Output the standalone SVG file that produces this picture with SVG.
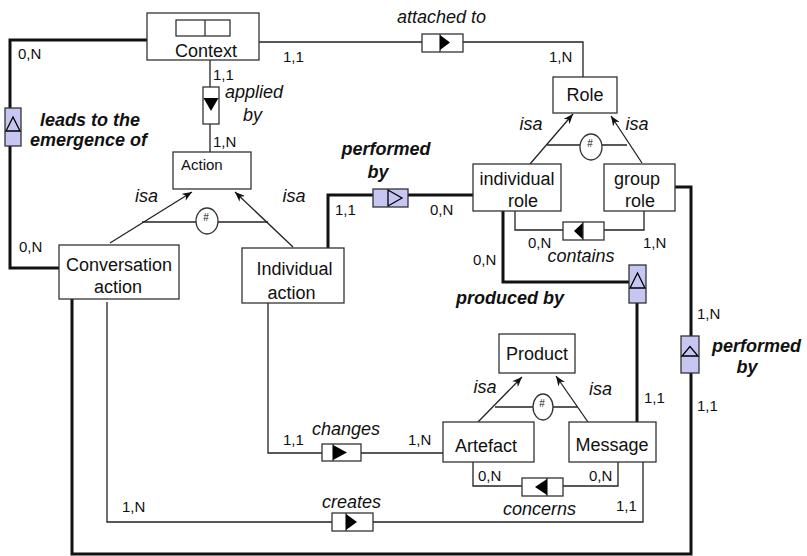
<svg xmlns="http://www.w3.org/2000/svg" width="807" height="556" viewBox="0 0 807 556">
<style>
.ent{fill:#fff;stroke:#333;stroke-width:1.3}
.rel{fill:#fff;stroke:#333;stroke-width:1.3}
.relb{fill:#c6c6f2;stroke:#333;stroke-width:1.3}
.thin{fill:none;stroke:#222;stroke-width:1.3}
.thick{fill:none;stroke:#111;stroke-width:3}
.tri{fill:#000;stroke:none}
.htri{fill:none;stroke:#000;stroke-width:1.3}
.dv{stroke:#333;stroke-width:1.3}
text{font-family:"Liberation Sans",Arial,sans-serif;fill:#111}
.n{font-size:18px;text-anchor:middle}
.c{font-size:15px}
.l{font-size:18px;font-style:italic;text-anchor:middle}
.b{font-size:18px;font-style:italic;font-weight:bold;text-anchor:middle}
.h{font-size:10px;text-anchor:middle}
</style>
<defs>
<marker id="arr" viewBox="0 0 10 8" refX="10" refY="4" markerWidth="10" markerHeight="8" markerUnits="userSpaceOnUse" orient="auto">
<path d="M0,0 L10,4 L0,8 L3,4 Z" fill="#111"/>
</marker>
</defs>
<g id="connectors">
<path class="thin" d="M259,42 H583 V77"/>
<path class="thin" d="M210,60 V152"/>
<path class="thin" d="M110,243 L192,192" marker-end="url(#arr)"/>
<path class="thin" d="M293,247 L235,192" marker-end="url(#arr)"/>
<path class="thin" d="M142,222 H268"/>
<path class="thin" d="M530,164 L573,114" marker-end="url(#arr)"/>
<path class="thin" d="M642,163 L611,116" marker-end="url(#arr)"/>
<path class="thin" d="M547,145 H627"/>
<path class="thin" d="M515,211 V230 H644 V211"/>
<path class="thin" d="M268,303 V453 H443"/>
<path class="thin" d="M478,422 L522,377" marker-end="url(#arr)"/>
<path class="thin" d="M588,422 L556,376" marker-end="url(#arr)"/>
<path class="thin" d="M495,407 H578"/>
<path class="thin" d="M473,462 V486 H618 V462"/>
<path class="thin" d="M107,302 V522 H643 V462"/>
<path class="thick" d="M147,40 H10 V268 H59"/>
<path class="thick" d="M328,248 V195 H473"/>
<path class="thick" d="M503,211 V282 H629"/>
<path class="thick" d="M637,303 V422"/>
<path class="thick" d="M675,187 H691 V554 H72 V299"/>
</g>
<g id="isa-circles">
<ellipse cx="207" cy="221" rx="11" ry="13" class="ent"/>
<text class="h" x="206" y="221">#</text>
<ellipse cx="591" cy="147" rx="11" ry="13" class="ent"/>
<text class="h" x="590" y="147">#</text>
<ellipse cx="543" cy="407" rx="10" ry="13" class="ent"/>
<text class="h" x="542" y="407">#</text>
</g>
<g id="Context">
<rect class="ent" x="147" y="13" width="112" height="47"/>
<rect class="ent" x="176" y="20" width="54" height="16"/>
<line class="dv" x1="205" y1="20" x2="205" y2="36"/>
<text class="n" x="206" y="57">Context</text>
</g>
<g id="Role">
<rect class="ent" x="553" y="77" width="64" height="36"/>
<text class="n" x="585" y="101">Role</text>
</g>
<g id="Action">
<rect class="ent" x="173" y="152" width="78" height="37"/>
<text x="181" y="170" style="font-size:15px">Action</text>
</g>
<g id="ConversationAction">
<rect class="ent" x="59" y="245" width="120" height="54"/>
<text class="n" x="119" y="271">Conversation</text>
<text class="n" x="118" y="293">action</text>
</g>
<g id="IndividualAction">
<rect class="ent" x="242" y="248" width="102" height="55"/>
<text class="n" x="294.5" y="275">Individual</text>
<text class="n" x="291.5" y="299">action</text>
</g>
<g id="IndividualRole">
<rect class="ent" x="473" y="164" width="88" height="47"/>
<text class="n" x="517" y="185">individual</text>
<text class="n" x="523" y="207">role</text>
</g>
<g id="GroupRole">
<rect class="ent" x="604" y="164" width="71" height="47"/>
<text class="n" x="637" y="185">group</text>
<text class="n" x="640" y="207">role</text>
</g>
<g id="Product">
<rect class="ent" x="499" y="334" width="76" height="39"/>
<text class="n" x="537" y="360">Product</text>
</g>
<g id="Artefact">
<rect class="ent" x="443" y="422" width="91" height="40"/>
<text class="n" x="486" y="452">Artefact</text>
</g>
<g id="Message">
<rect class="ent" x="569" y="422" width="87" height="40"/>
<text class="n" x="612" y="451">Message</text>
</g>
<g id="rel-attached-to">
<rect class="rel" x="422" y="34" width="41" height="18"/>
<line class="dv" x1="440" y1="34" x2="440" y2="52"/>
<path class="tri" d="M440,35 L450,42.5 L440,50 Z"/>
<text class="l" x="441.5" y="22.5">attached to</text>
</g>
<g id="rel-applied-by">
<rect class="rel" x="203" y="87" width="16" height="37"/>
<path class="tri" d="M203.5,98 L218.5,98 L211,111 Z"/>
<text x="225" y="98" style="font-size:18px;font-style:italic">applied</text>
<text class="l" x="252.5" y="121">by</text>
</g>
<g id="rel-leads-to">
<rect class="relb" x="5" y="108" width="16" height="38"/>
<path class="htri" d="M13,117 L6,131 L20,131 Z"/>
<text class="b" x="90" y="126">leads to the</text>
<text class="b" x="88.5" y="146">emergence of</text>
</g>
<g id="rel-performed-by-1">
<rect class="relb" x="373" y="189" width="35" height="18"/>
<path class="htri" d="M388,190 L402,198 L388,206 Z"/>
<text class="b" x="386" y="155">performed</text>
<text class="b" x="378" y="178">by</text>
</g>
<g id="rel-contains">
<rect class="rel" x="563" y="222" width="41" height="18"/>
<path class="tri" d="M583,222.5 L574,231 L583,239.5 Z"/>
<line class="dv" x1="583" y1="222" x2="583" y2="240"/>
<text class="l" x="581" y="262">contains</text>
</g>
<g id="rel-produced-by">
<rect class="relb" x="629" y="265" width="17" height="38"/>
<path class="htri" d="M637.5,273 L630,288 L645,288 Z"/>
<text class="b" x="510" y="304">produced by</text>
</g>
<g id="rel-performed-by-2">
<rect class="relb" x="681" y="336" width="18" height="37"/>
<path class="htri" d="M690,346.5 L682,356 L698,356 Z"/>
<text class="b" x="756.5" y="352">performed</text>
<text class="b" x="747" y="373">by</text>
</g>
<g id="rel-changes">
<rect class="rel" x="322" y="444" width="39" height="17"/>
<line class="dv" x1="333" y1="444" x2="333" y2="461"/>
<path class="tri" d="M333,445 L347,452.5 L333,460 Z"/>
<text class="l" x="346" y="435">changes</text>
</g>
<g id="rel-concerns">
<rect class="rel" x="522" y="478" width="41" height="18"/>
<line class="dv" x1="547" y1="478" x2="547" y2="496"/>
<path class="tri" d="M547,479 L535,487 L547,495 Z"/>
<text class="l" x="539.5" y="515">concerns</text>
</g>
<g id="rel-creates">
<rect class="rel" x="332" y="513" width="41" height="18"/>
<line class="dv" x1="346" y1="513" x2="346" y2="531"/>
<path class="tri" d="M346,514 L357,522 L346,530 Z"/>
<text class="l" x="351.5" y="508">creates</text>
</g>
<g id="isa-labels">
<text class="l" x="531" y="129.5">isa</text>
<text class="l" x="637" y="129.5">isa</text>
<text class="l" x="146.5" y="202">isa</text>
<text class="l" x="294" y="202">isa</text>
<text class="l" x="485" y="392.5">isa</text>
<text class="l" x="600.5" y="395">isa</text>
</g>
<g id="cardinalities">
<text class="c" x="18" y="59">0,N</text>
<text class="c" x="283" y="62">1,1</text>
<text class="c" x="549" y="62">1,N</text>
<text class="c" x="213" y="80">1,1</text>
<text class="c" x="213" y="147">1,N</text>
<text class="c" x="19" y="252">0,N</text>
<text class="c" x="335" y="215">1,1</text>
<text class="c" x="430" y="215">0,N</text>
<text class="c" x="528" y="248">0,N</text>
<text class="c" x="643" y="248">1,N</text>
<text class="c" x="473" y="265">0,N</text>
<text class="c" x="697" y="319">1,N</text>
<text class="c" x="697" y="411">1,1</text>
<text class="c" x="644" y="403">1,1</text>
<text class="c" x="283" y="445">1,1</text>
<text class="c" x="408" y="445">1,N</text>
<text class="c" x="478" y="481">0,N</text>
<text class="c" x="589" y="481">0,N</text>
<text class="c" x="122" y="512">1,N</text>
<text class="c" x="616" y="511">1,1</text>
</g>
</svg>
